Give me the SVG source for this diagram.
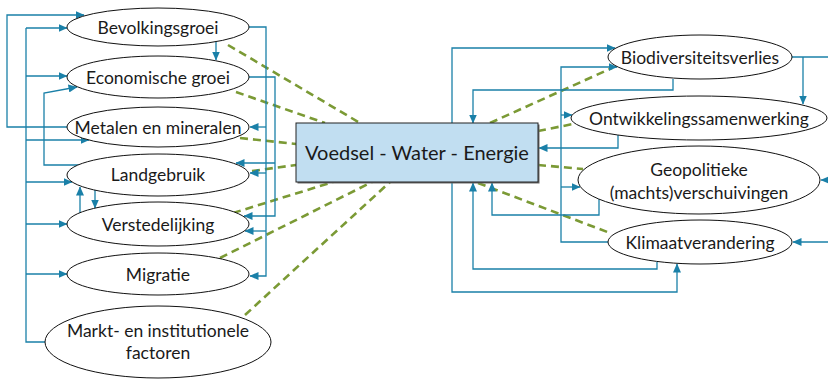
<svg xmlns="http://www.w3.org/2000/svg" width="828" height="379" viewBox="0 0 828 379">
<defs>
<marker id="ah" markerWidth="9" markerHeight="8" refX="8.5" refY="4" orient="auto" markerUnits="userSpaceOnUse">
<path d="M0,0 L9,4 L0,8 Z" fill="#1a80a8"/>
</marker>
<style>
.c{fill:none;stroke:#1a80a8;stroke-width:1.3}
.a{marker-end:url(#ah)}
.d{fill:none;stroke:#7b9a35;stroke-width:2.6;stroke-dasharray:8 5}
.n{fill:#fff;stroke:#111;stroke-width:1}
.t{font-family:Lato,"Open Sans",sans-serif;font-size:17.5px;fill:#1a1a1a;text-anchor:middle;dominant-baseline:central}
</style>
</defs>
<g id="connectors">
<path class="d" d="M228,45 L360,123"/>
<path class="d" d="M236,92 L325,123"/>
<path class="d" d="M240,138 L296,144"/>
<path class="d" d="M252,171 L296,165"/>
<path class="d" d="M233,213 L333,182"/>
<path class="d" d="M220,258 L372,182"/>
<path class="d" d="M245,315 L390,182"/>
<path class="d" d="M490,123 L612,68"/>
<path class="d" d="M538,131 L573,124"/>
<path class="d" d="M538,165 L583,169"/>
<path class="d" d="M478,183 L610,233"/>
<path class="c a" d="M68,127 H7 V15 H84"/>
<path class="c" d="M45,342 H26 V28"/>
<path class="c a" d="M26,28 H67"/>
<path class="c a" d="M26,76 H67"/>
<path class="c a" d="M26,140 H89"/>
<path class="c a" d="M26,182 H72"/>
<path class="c a" d="M26,224 H67"/>
<path class="c a" d="M26,274 H67"/>
<path class="c a" d="M79,165 H44 V93 L77,87"/>
<path class="c a" d="M80,213 V187"/>
<path class="c a" d="M95,190 V208"/>
<path class="c a" d="M216,42 V60"/>
<path class="c a" d="M249,27 H266 V276 H250"/>
<path class="c a" d="M266,127 H250"/>
<path class="c a" d="M266,173 H250"/>
<path class="c a" d="M266,231 H245"/>
<path class="c a" d="M249,77 H275 V216 H244"/>
<path class="c a" d="M275,163 H236"/>
<path class="c a" d="M452,123 V48 H615"/>
<path class="c a" d="M608,242 H561 V67 H617"/>
<path class="c a" d="M561,115 H572"/>
<path class="c a" d="M561,187 H580"/>
<path class="c a" d="M673,79 V90 H473 V123"/>
<path class="c" d="M792,57 H828"/>
<path class="c a" d="M803,57 V104"/>
<path class="c a" d="M618,135 V148 H539"/>
<path class="c a" d="M599,199 V215 H492 V183"/>
<path class="c a" d="M828,180 H821"/>
<path class="c a" d="M657,262 V269 H473 V183"/>
<path class="c a" d="M452,183 V292 H677 V264"/>
<path class="c a" d="M828,242 H793"/>
</g>
<g id="n-bevolkingsgroei"><ellipse class="n" cx="158" cy="27" rx="91" ry="19"/><text class="t" x="158" y="27">Bevolkingsgroei</text></g>
<g id="n-economische-groei"><ellipse class="n" cx="158" cy="77" rx="91" ry="21"/><text class="t" x="158" y="77">Economische groei</text></g>
<g id="n-metalen"><ellipse class="n" cx="158" cy="127" rx="91" ry="20"/><text class="t" x="158" y="127">Metalen en mineralen</text></g>
<g id="n-landgebruik"><ellipse class="n" cx="158" cy="175" rx="91" ry="21"/><text class="t" x="158" y="174">Landgebruik</text></g>
<g id="n-verstedelijking"><ellipse class="n" cx="158" cy="224" rx="91" ry="22"/><text class="t" x="158" y="224">Verstedelijking</text></g>
<g id="n-migratie"><ellipse class="n" cx="158" cy="274" rx="91" ry="21"/><text class="t" x="158" y="274">Migratie</text></g>
<g id="n-markt"><ellipse class="n" cx="158" cy="342" rx="113" ry="36"/><text class="t" x="158" y="330">Markt- en institutionele</text><text class="t" x="158" y="352">factoren</text></g>
<g id="n-vwe">
<rect x="297.5" y="124.5" width="242" height="59" fill="#6a6a6a"/>
<rect x="296" y="123" width="242" height="59" fill="#c1def1" stroke="#222" stroke-width="1"/>
<text class="t" x="417" y="152" style="font-size:20px">Voedsel - Water - Energie</text>
</g>
<g id="n-biodiversiteit"><ellipse class="n" cx="700" cy="57" rx="92" ry="22"/><text class="t" x="700" y="57">Biodiversiteitsverlies</text></g>
<g id="n-ontwikkeling"><ellipse class="n" cx="699" cy="118" rx="128" ry="22"/><text class="t" x="699" y="118">Ontwikkelingssamenwerking</text></g>
<g id="n-geopolitiek"><ellipse class="n" cx="699" cy="180" rx="121" ry="34"/><text class="t" x="699" y="169">Geopolitieke</text><text class="t" x="699" y="192">(machts)verschuivingen</text></g>
<g id="n-klimaat"><ellipse class="n" cx="700" cy="242" rx="92" ry="22"/><text class="t" x="700" y="242">Klimaatverandering</text></g>
</svg>
